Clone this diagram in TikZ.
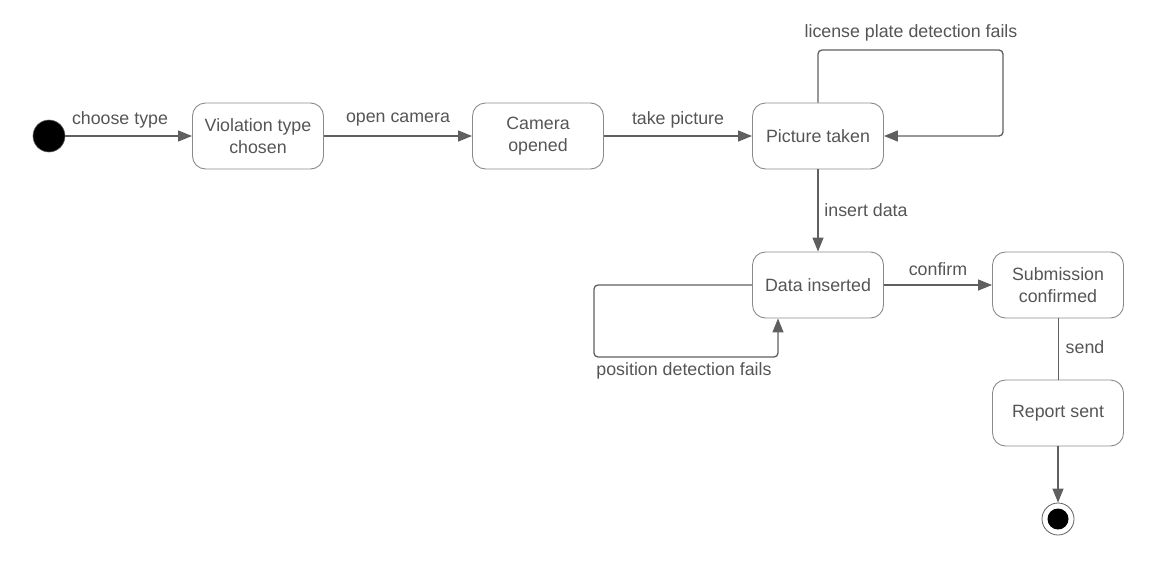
\documentclass[tikz,border=0pt]{standalone}
\usepackage{fontspec}
\setmainfont{Liberation Sans}
\usetikzlibrary{arrows.meta}
\definecolor{linegray}{HTML}{5F5F5F}
\definecolor{boxgray}{HTML}{8A8A8A}
\definecolor{txtgray}{HTML}{555555}
\begin{document}
\begin{tikzpicture}[x=1pt, y=-1pt, line width=1.3pt,
  font=\fontsize{17.8}{21.5}\selectfont, text=txtgray,
  state/.style={draw=boxgray, line width=0.9pt, rounded corners=13pt, minimum width=131pt, minimum height=66pt, inner sep=0pt, align=center},
  arr/.style={draw=linegray, -{Triangle[length=14pt, width=11pt]}},
  lbl/.style={inner sep=2pt}]

\useasboundingbox (0,0) rectangle (1153,573);

% states
\node[circle, fill=black, draw=linegray, line width=0.6pt, minimum size=32pt, inner sep=0pt] (start) at (49,136) {};
\node[state] (viol) at (258,136) {Violation type\\chosen};
\node[state] (cam) at (538,136) {Camera\\opened};
\node[state] (pic) at (818,136) {Picture taken};
\node[state] (dat) at (818,285) {Data inserted};
\node[state] (sub) at (1058,285) {Submission\\confirmed};
\node[state] (rep) at (1058,413) {Report sent};
\node[circle, draw=linegray, line width=0.8pt, minimum size=32pt, inner sep=0pt] (stop) at (1058,519) {};
\fill[black] (stop) circle (10.5pt);

% turning points of the loops
\coordinate (lpturn) at (1003,50);
\coordinate (pdturn) at (594,357);

% transitions
\draw[arr] (start) -- (viol);
\node[lbl] (l1) at (120,120) {choose type};
\draw[arr] (viol) -- (cam);
\node[lbl] (l2) at (398,120) {open camera};
\draw[arr] (cam) -- (pic);
\node[lbl] (l3) at (678,120) {take picture};
\draw[arr, rounded corners=4pt] (pic.north) |- (lpturn) |- (pic.east);
\node[lbl] (l4) at (911,33) {license plate detection fails};
\draw[arr] (pic) -- (dat);
\node[lbl] (l5) at (866,210) {insert data};
\draw[arr] (dat) -- (sub);
\node[lbl] (l6) at (938,269) {confirm};
\draw[arr, rounded corners=4pt] (dat.west) -| (pdturn) -| ([xshift=-40pt]dat.south);
\node[lbl] (l7) at (684,371) {position detection fails};
\draw[draw=linegray, line width=1pt] (sub) -- (rep);
\node[lbl] (l8) at (1085,347) {send};
\draw[arr] (rep) -- (stop);

\end{tikzpicture}
\end{document}
